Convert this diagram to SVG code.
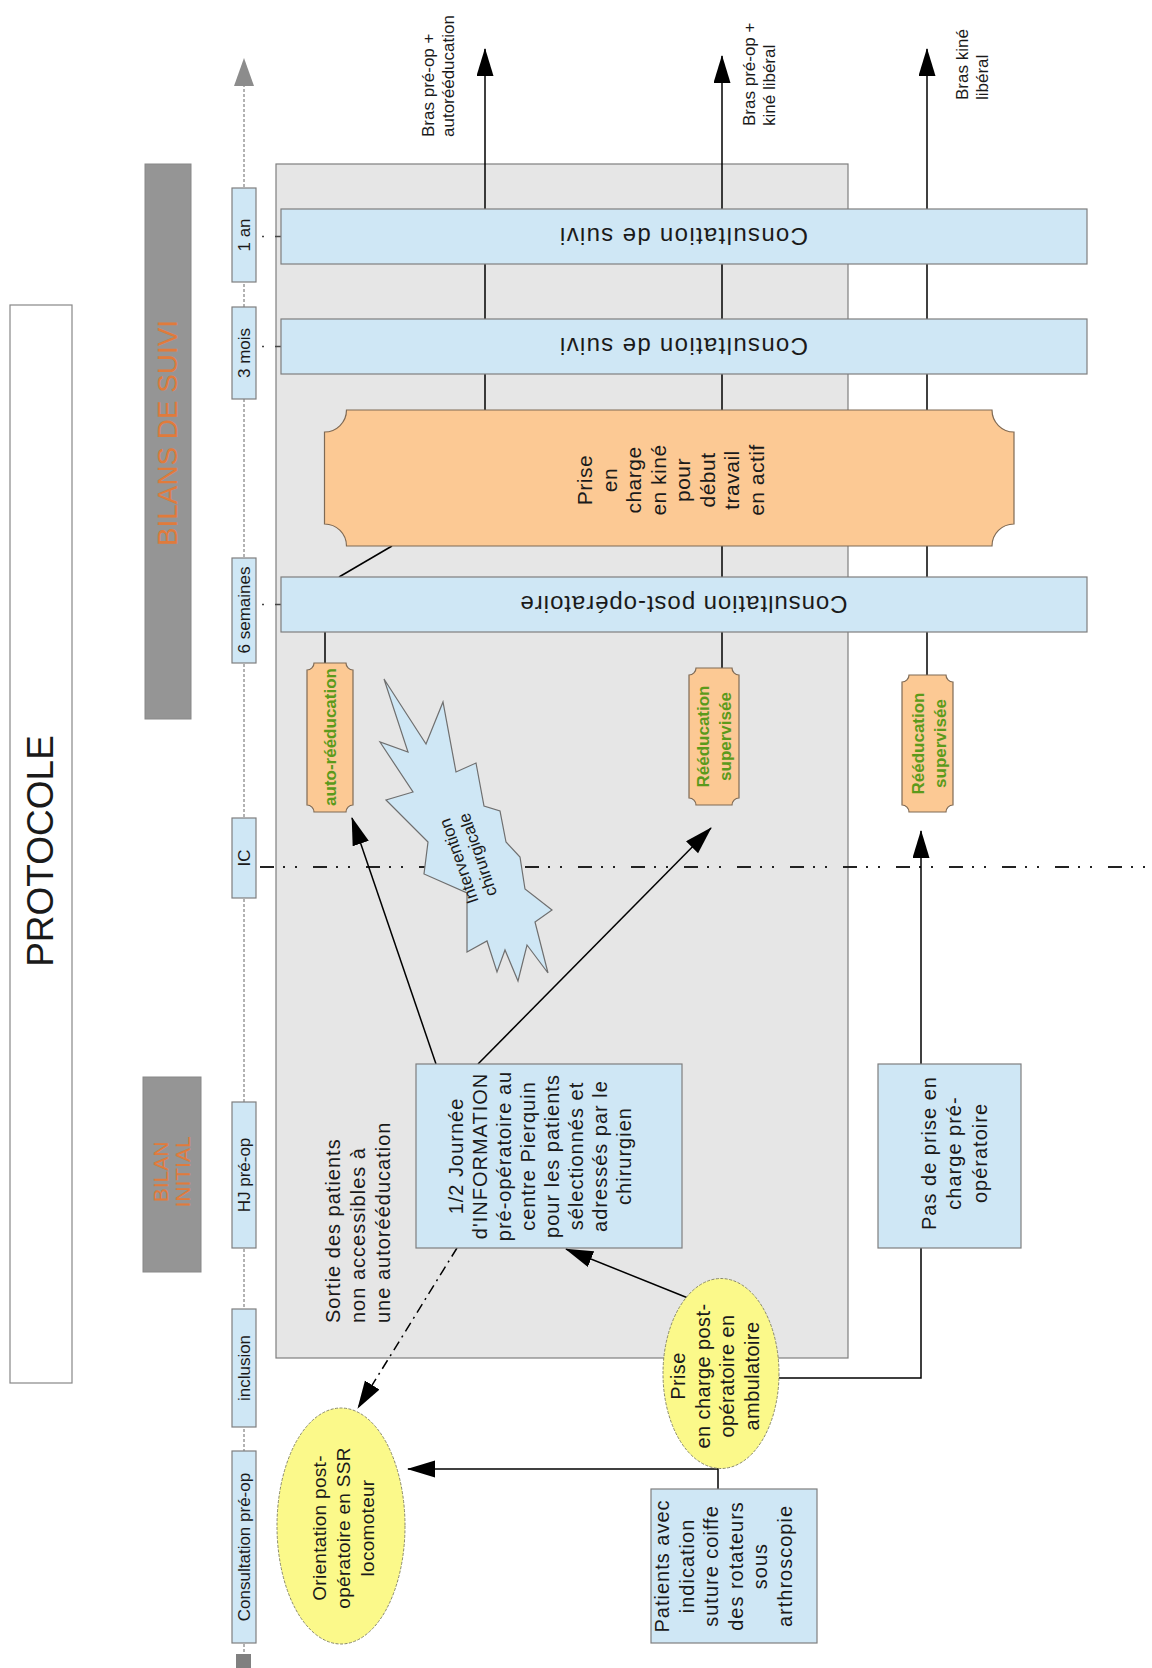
<svg xmlns="http://www.w3.org/2000/svg" width="1152" height="1668" viewBox="0 0 1152 1668">
<style>
text{font-family:"Liberation Sans",Arial,sans-serif;fill:#1a1a1a}
.blue{fill:#cfe7f5;stroke:#7f7f7f;stroke-width:1.2}
.orange{fill:#fcc994;stroke:#7f6a55;stroke-width:1.2}
.yellow{fill:#fbf98a;stroke:#8a8a6a;stroke-width:1;stroke-dasharray:3 1.5}
.tl{font-size:17px}
.body{font-size:20px;letter-spacing:1px}
.green{font-size:17px;font-weight:bold;fill:#5b9a1b}
.lbl{font-size:17px}
.ln{fill:none;stroke:#000;stroke-width:1.5}
.bar{fill:#959595;stroke:#888;stroke-width:1}
.band{font-family:"Liberation Sans Narrow","Liberation Sans",Arial,sans-serif;fill:#e07b3c}
.cs{font-size:24px}
</style>
<defs>
<marker id="ah" markerUnits="userSpaceOnUse" markerWidth="28" markerHeight="18" refX="27" refY="8.5" orient="auto">
<path d="M0,0 L28,8.5 L0,17 Z" fill="#000"/>
</marker>
</defs>
<rect width="1152" height="1668" fill="#fff"/>

<g id="zone-gris">
<rect x="276" y="164" width="572" height="1194" fill="#e6e6e6" stroke="#7f7f7f" stroke-width="1.2"/>
</g>

<g id="protocole">
<rect x="10" y="305" width="62" height="1078" fill="#fff" stroke="#888" stroke-width="1.2"/>
<text transform="translate(40,851) rotate(-90)" text-anchor="middle" dominant-baseline="central" font-size="37">PROTOCOLE</text>
</g>

<g id="bilans-suivi">
<rect class="bar" x="145" y="164" width="46" height="555"/>
<text class="band" transform="translate(168,433) rotate(-90)" text-anchor="middle" dominant-baseline="central" font-size="27" textLength="226" lengthAdjust="spacingAndGlyphs">BILANS DE SUIVI</text>
</g>

<g id="bilan-initial">
<rect class="bar" x="143" y="1077" width="58" height="195"/>
<text class="band" transform="translate(171,1172) rotate(-90)" text-anchor="middle" dominant-baseline="central" font-size="21"><tspan x="0" y="-11">BILAN</tspan><tspan x="0" y="11">INITIAL</tspan></text>
</g>

<g id="timeline">
<line x1="244" y1="84" x2="244" y2="1655" stroke="#666" stroke-width="1" stroke-dasharray="3 2"/>
<polygon points="244,58 234,86 254,86" fill="#8c8c8c"/>
<rect x="236" y="1654" width="15" height="14" fill="#808080"/>
<g stroke="#444" stroke-width="1.5" stroke-dasharray="2 11 6 20">
<line x1="262" y1="236.5" x2="281" y2="236.5"/>
<line x1="262" y1="346.5" x2="281" y2="346.5"/>
<line x1="262" y1="604.5" x2="281" y2="604.5"/>
</g>
</g>

<g id="t-1an"><rect class="blue" x="232" y="188" width="24" height="94"/><text class="tl" transform="translate(244,235) rotate(-90)" text-anchor="middle" dominant-baseline="central">1 an</text></g>
<g id="t-3mois"><rect class="blue" x="232" y="307" width="24" height="92"/><text class="tl" transform="translate(244,353) rotate(-90)" text-anchor="middle" dominant-baseline="central">3 mois</text></g>
<g id="t-6sem"><rect class="blue" x="232" y="558" width="24" height="105"/><text class="tl" transform="translate(244,610) rotate(-90)" text-anchor="middle" dominant-baseline="central">6 semaines</text></g>
<g id="t-ic"><rect class="blue" x="232" y="818" width="24" height="80"/><text class="tl" transform="translate(244,858) rotate(-90)" text-anchor="middle" dominant-baseline="central">IC</text></g>
<g id="t-hj"><rect class="blue" x="232" y="1102" width="24" height="146"/><text class="tl" transform="translate(244,1175) rotate(-90)" text-anchor="middle" dominant-baseline="central">HJ pré-op</text></g>
<g id="t-inclusion"><rect class="blue" x="232" y="1309" width="24" height="118"/><text class="tl" transform="translate(244,1368) rotate(-90)" text-anchor="middle" dominant-baseline="central">inclusion</text></g>
<g id="t-consult"><rect class="blue" x="232" y="1451" width="24" height="192"/><text class="tl" transform="translate(244,1547) rotate(-90)" text-anchor="middle" dominant-baseline="central">Consultation pré-op</text></g>

<g id="connectors">
<line x1="260" y1="867" x2="1152" y2="867" stroke="#222" stroke-width="1.8" stroke-dasharray="14 9 2 10 2 16"/>
<line class="ln" x1="485" y1="410" x2="485" y2="49" marker-end="url(#ah)"/>
<line class="ln" x1="722" y1="669" x2="722" y2="56" marker-end="url(#ah)"/>
<line class="ln" x1="927" y1="676" x2="927" y2="49" marker-end="url(#ah)"/>
<line class="ln" x1="392" y1="546" x2="339" y2="577"/>
<line class="ln" x1="325" y1="632" x2="325" y2="663"/>
<line class="ln" x1="436" y1="1064" x2="352" y2="818" marker-end="url(#ah)"/>
<line class="ln" x1="478" y1="1064" x2="711" y2="828" marker-end="url(#ah)"/>
<line class="ln" x1="921" y1="1064" x2="921" y2="831" marker-end="url(#ah)"/>
<line class="ln" x1="688" y1="1298" x2="566" y2="1249" marker-end="url(#ah)"/>
<polyline class="ln" points="779,1378 921,1378 921,1248"/>
<line class="ln" x1="457" y1="1248" x2="358" y2="1408" stroke-dasharray="10 5 2 5" marker-end="url(#ah)"/>
<line class="ln" x1="718" y1="1489" x2="718" y2="1468"/>
<line class="ln" x1="718" y1="1469" x2="408" y2="1469" marker-end="url(#ah)"/>
</g>

<g id="labels-bras">
<text class="lbl" transform="translate(438,137) rotate(-90)" dominant-baseline="central"><tspan x="0" y="-10">Bras pré-op +</tspan><tspan x="0" y="10">autorééducation</tspan></text>
<text class="lbl" transform="translate(759,126) rotate(-90)" dominant-baseline="central"><tspan x="0" y="-10">Bras pré-op +</tspan><tspan x="0" y="10">kiné libéral</tspan></text>
<text class="lbl" transform="translate(972,100) rotate(-90)" dominant-baseline="central"><tspan x="0" y="-10">Bras kiné</tspan><tspan x="0" y="10">libéral</tspan></text>
</g>

<g id="consult-1an">
<rect class="blue" x="281" y="209" width="806" height="55"/>
<text class="cs" transform="translate(684,236.5) rotate(180)" text-anchor="middle" dominant-baseline="central" textLength="248" lengthAdjust="spacing">Consultation de suivi</text>
</g>
<g id="consult-3mois">
<rect class="blue" x="281" y="319" width="806" height="55"/>
<text class="cs" transform="translate(684,346.5) rotate(180)" text-anchor="middle" dominant-baseline="central" textLength="248" lengthAdjust="spacing">Consultation de suivi</text>
</g>
<g id="consult-postop">
<rect class="blue" x="281" y="577" width="806" height="55"/>
<text class="cs" transform="translate(684,604.5) rotate(180)" text-anchor="middle" dominant-baseline="central" textLength="327" lengthAdjust="spacing">Consultation post-opératoire</text>
</g>

<g id="kine-actif">
<path class="orange" d="M346.5,410 L992,410 A22,22 0 0 0 1014,432 L1014,524 A22,22 0 0 0 992,546 L346.5,546 A22,22 0 0 0 324.5,524 L324.5,432 A22,22 0 0 0 346.5,410 Z"/>
<text transform="translate(670,480) rotate(-90)" text-anchor="middle" dominant-baseline="central" font-size="21" letter-spacing="0.5"><tspan x="0" y="-85.75">Prise</tspan><tspan x="0" y="-61.25">en</tspan><tspan x="0" y="-36.75">charge</tspan><tspan x="0" y="-12.25">en kiné</tspan><tspan x="0" y="12.25">pour</tspan><tspan x="0" y="36.75">début</tspan><tspan x="0" y="61.25">travail</tspan><tspan x="0" y="85.75">en actif</tspan></text>
</g>

<g id="auto-reeducation">
<path class="orange" d="M314,663 L346,663 A7,7 0 0 0 353,670 L353,805 A7,7 0 0 0 346,812 L314,812 A7,7 0 0 0 307,805 L307,670 A7,7 0 0 0 314,663 Z"/>
<text class="green" transform="translate(330,737) rotate(-90)" text-anchor="middle" dominant-baseline="central">auto-rééducation</text>
</g>

<g id="reeduc-1">
<path class="orange" d="M696,668 L732,668 A7,7 0 0 0 739,675 L739,798 A7,7 0 0 0 732,805 L696,805 A7,7 0 0 0 689,798 L689,675 A7,7 0 0 0 696,668 Z"/>
<text class="green" transform="translate(714,736.5) rotate(-90)" text-anchor="middle" dominant-baseline="central"><tspan x="0" y="-11">Rééducation</tspan><tspan x="0" y="11">supervisée</tspan></text>
</g>

<g id="reeduc-2">
<path class="orange" d="M909,675 L946,675 A7,7 0 0 0 953,682 L953,805 A7,7 0 0 0 946,812 L909,812 A7,7 0 0 0 902,805 L902,682 A7,7 0 0 0 909,675 Z"/>
<text class="green" transform="translate(929,743.5) rotate(-90)" text-anchor="middle" dominant-baseline="central"><tspan x="0" y="-11">Rééducation</tspan><tspan x="0" y="11">supervisée</tspan></text>
</g>

<g id="intervention">
<polygon points="384,679 426,744 443,702 456,772 476,763 484,806 500,811 506,842 520,857 525,889 552,910 535,922 548,973 527,945 518,981 505,950 497,972 487,941 467,952 467,893 424,874 428,842 386,800 413,792 380,742 408,752" fill="#cfe7f5" stroke="#6f6f6f" stroke-width="1.2"/>
<text transform="translate(468,858) rotate(-109)" text-anchor="middle" dominant-baseline="central" font-size="17"><tspan x="0" y="-10">Intervention</tspan><tspan x="0" y="10">chirurgicale</tspan></text>
</g>

<g id="sortie">
<text class="body" transform="translate(358,1323) rotate(-90)" dominant-baseline="central"><tspan x="0" y="-25">Sortie des patients</tspan><tspan x="0" y="0">non accessibles à</tspan><tspan x="0" y="25">une autorééducation</tspan></text>
</g>

<g id="journee-info">
<rect class="blue" x="416" y="1064" width="266" height="184"/>
<text class="body" transform="translate(540,1156) rotate(-90)" text-anchor="middle" dominant-baseline="central"><tspan x="0" y="-84.5">1/2 Journée</tspan><tspan x="0" y="-60.4">d'INFORMATION</tspan><tspan x="0" y="-36.3">pré-opératoire au</tspan><tspan x="0" y="-12.1">centre Pierquin</tspan><tspan x="0" y="12">pour les patients</tspan><tspan x="0" y="36.1">sélectionnés et</tspan><tspan x="0" y="60.3">adressés par le</tspan><tspan x="0" y="84.4">chirurgien</tspan></text>
</g>

<g id="pas-de-prise">
<rect class="blue" x="878" y="1064" width="143" height="184"/>
<text class="body" transform="translate(954,1153) rotate(-90)" text-anchor="middle" dominant-baseline="central" letter-spacing="0.3"><tspan x="0" y="-25.5">Pas de prise en</tspan><tspan x="0" y="0">charge pré-</tspan><tspan x="0" y="25.5">opératoire</tspan></text>
</g>

<g id="orientation-ssr">
<ellipse class="yellow" cx="341" cy="1526" rx="64" ry="118"/>
<text transform="translate(343,1528) rotate(-90)" text-anchor="middle" dominant-baseline="central" font-size="19" letter-spacing="0.3"><tspan x="0" y="-24">Orientation post-</tspan><tspan x="0" y="0">opératoire en SSR</tspan><tspan x="0" y="24">locomoteur</tspan></text>
</g>

<g id="ambulatoire">
<ellipse class="yellow" cx="721" cy="1373.5" rx="58" ry="95"/>
<text transform="translate(715,1376) rotate(-90)" text-anchor="middle" dominant-baseline="central" font-size="20" letter-spacing="0.4"><tspan x="0" y="-37">Prise</tspan><tspan x="0" y="-12.3">en charge post-</tspan><tspan x="0" y="12.3">opératoire en</tspan><tspan x="0" y="37">ambulatoire</tspan></text>
</g>

<g id="patients">
<rect class="blue" x="651" y="1489" width="166" height="154"/>
<text class="body" transform="translate(723.5,1566) rotate(-90)" text-anchor="middle" dominant-baseline="central" letter-spacing="0.5"><tspan x="0" y="-61.25">Patients avec</tspan><tspan x="0" y="-36.75">indication</tspan><tspan x="0" y="-12.25">suture coiffe</tspan><tspan x="0" y="12.25">des rotateurs</tspan><tspan x="0" y="36.75">sous</tspan><tspan x="0" y="61.25">arthroscopie</tspan></text>
</g>
</svg>
